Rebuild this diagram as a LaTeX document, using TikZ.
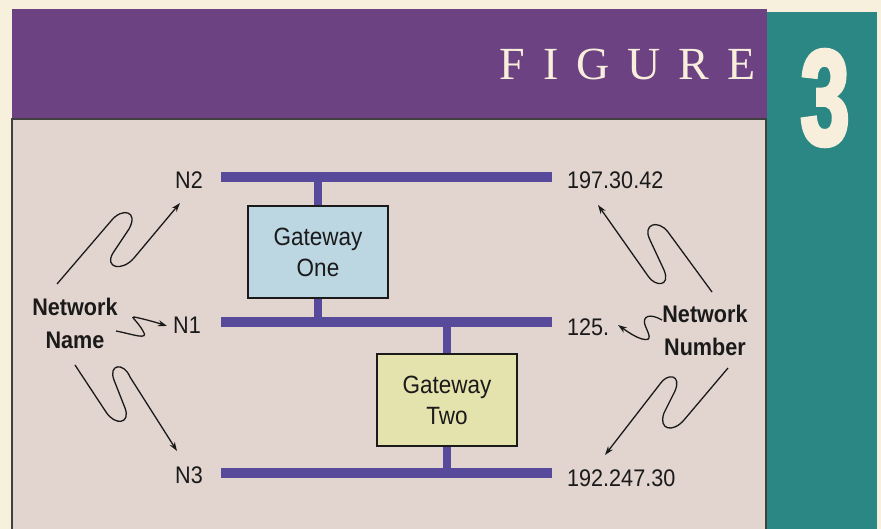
\documentclass[tikz,border=0pt]{standalone}
\usepackage{fontspec}
\setmainfont[FakeStretch=0.9]{Liberation Sans}
\newfontfamily\figfont{Liberation Serif}
\newfontfamily\numfont[FakeStretch=0.64,FakeBold=3]{Liberation Sans}
\usetikzlibrary{arrows.meta}
\definecolor{creambg}{HTML}{F7F0DD}
\definecolor{bandpurple}{HTML}{6C4282}
\definecolor{bandteal}{HTML}{2B8784}
\definecolor{panelbg}{HTML}{E2D4CF}
\definecolor{barblue}{HTML}{574A9A}
\definecolor{gwone}{HTML}{BCD6E2}
\definecolor{gwtwo}{HTML}{E5E3AD}
\definecolor{inkcol}{HTML}{1A1A1A}
\definecolor{creamtext}{HTML}{F8EEDC}
\tikzset{
  netbar/.style={fill=barblue, draw=none, minimum height=10pt, inner sep=0pt, minimum width=331pt},
  stub/.style={draw=barblue, line width=8pt},
  gwbox/.style={draw=inkcol, line width=1.4pt, minimum width=140pt, minimum height=92pt, align=center, inner sep=0pt, font=\fontsize{25}{31}\selectfont, text=inkcol},
  lbl/.style={font=\fontsize{24}{29}\selectfont, text=inkcol, inner sep=0pt},
  blbl/.style={font=\bfseries\fontsize{24}{33}\selectfont, text=inkcol, inner sep=0pt, align=center},
  squig/.style={draw=inkcol, line width=1.3pt, -{Stealth[length=9pt,width=6pt]}},
}
\begin{document}
\begin{tikzpicture}[x=1pt,y=-1pt]
\useasboundingbox (0,0) rectangle (881,529);
\fill[creambg] (0,0) rectangle (881,529);
% bands
\fill[bandpurple] (12,9) rectangle (767,118);
\fill[bandteal] (767,12) rectangle (877,529);
\fill[panelbg] (12,119) rectangle (766,529);
\draw[black!75, line width=1.2pt] (12,529) -- (12,119) -- (766,119) -- (766,529);
\node[font=\figfont\fontsize{46}{50}\selectfont, text=creamtext, anchor=east, inner sep=0pt] (fig) at (756,64) {F\hspace{18pt}I\hspace{18pt}G\hspace{18pt}U\hspace{18pt}R\hspace{18pt}E};
\node[font=\numfont\bfseries\fontsize{136}{140}\selectfont, text=creamtext, inner sep=0pt] (num) at (825,98) {3};
% bars
\node[netbar] (b2) at (386.5,177) {};
\node[netbar] (b1) at (386.5,322) {};
\node[netbar] (b3) at (386.5,473) {};
% gateways
\node[gwbox, fill=gwone] (g1) at (318,252) {Gateway\\One};
\node[gwbox, fill=gwtwo] (g2) at (447,400) {Gateway\\Two};
\draw[stub] (g1.north) -- (g1.north |- b2.center);
\draw[stub] (g1.south) -- (g1.south |- b1.center);
\draw[stub] (g2.north) -- (g2.north |- b1.center);
\draw[stub] (g2.south) -- (g2.south |- b3.center);
% labels left
\node[lbl, anchor=east] (n2) at (203,180) {N2};
\node[lbl, anchor=east] (n1) at (201,325) {N1};
\node[lbl, anchor=east] (n3) at (203,475) {N3};
% labels right
\node[lbl, anchor=west] (a2) at (567,180) {197.30.42};
\node[lbl, anchor=west] (a1) at (567,327) {125.};
\node[lbl, anchor=west] (a3) at (567,478) {192.247.30};
% captions
\node[blbl] (nname) at (75,323) {Network\\Name};
\node[blbl] (nnum) at (705,330) {Network\\Number};
% squiggle arrows left
\draw[squig] (57,284) -- (111,221) .. controls (122,207) and (139,211) .. (129,229) -- (113,253) .. controls (104,268) and (122,272) .. (134,258) -- (180,203);
\draw[squig] (116,331) .. controls (132,334) and (150,341) .. (143,331) .. controls (138,322) and (130,316) .. (134,317) .. controls (140,318) and (155,322) .. (167,326);
\draw[squig] (75,365) -- (106,412) .. controls (115,426) and (131,424) .. (125,408) -- (114,380) .. controls (108,364) and (124,362) .. (130,377) -- (177,451);
% squiggle arrows right
\draw[squig] (712,292) -- (668,232) .. controls (658,219) and (642,224) .. (650,240) -- (664,270) .. controls (671,287) and (655,287) .. (648,276) -- (598,205);
\draw[squig] (662,320) .. controls (650,313) and (642,316) .. (645,325) .. controls (648,333) and (654,342) .. (642,339) .. controls (635,337) and (628,332) .. (618,325);
\draw[squig] (728,368) -- (684,420) .. controls (673,433) and (658,430) .. (664,413) -- (675,391) .. controls (682,374) and (667,373) .. (660,384) -- (605,455);
\end{tikzpicture}
\end{document}
